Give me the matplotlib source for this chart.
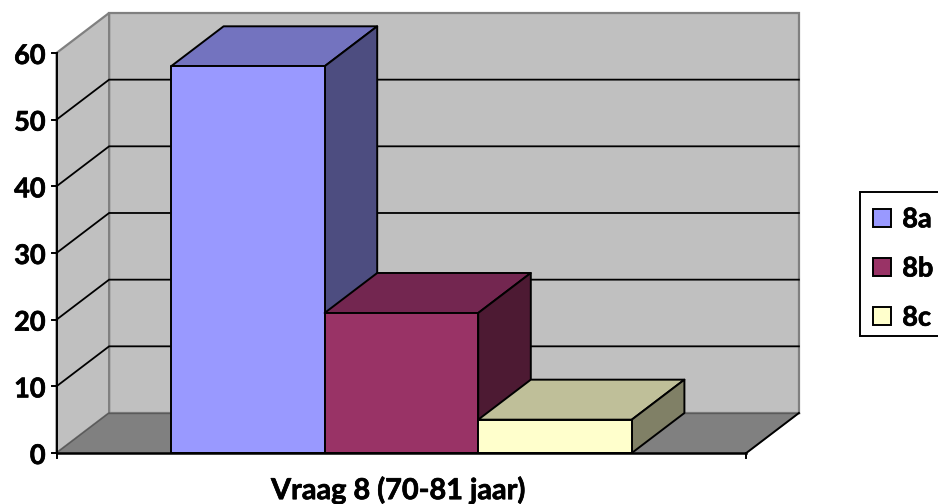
import matplotlib
matplotlib.use("Agg")
import matplotlib.pyplot as plt
from matplotlib.patches import Polygon, Patch, Rectangle
import matplotlib.patheffects as pe

plt.rcParams['font.family'] = ['Lato', 'DejaVu Sans']
plt.rcParams['font.weight'] = 'bold'

categories = ['8a', '8b', '8c']
values = [58, 21, 5]
front_colors = ['#9999FF', '#993366', '#FFFFCC']
top_colors = ['#7373BF', '#732650', '#BFBF99']
side_colors = ['#4D4D80', '#4D1A33', '#808066']
yticks = [0, 10, 20, 30, 40, 50, 60]
xlabel = 'Vraag 8 (70-81 jaar)'

W, H = 938, 504
UX, UY = 153.6, 6.667        # pixels per bar width / per value unit
X0PX, Y0PX = 171.0, 453.0
DX, DY = 52.6 / UX, 40 / UY  # oblique depth in data units
GAP = 114.5 / UX
XL, XR = -GAP, 3 + GAP
YMAX = 60
FS = 19.5
stroke = [pe.withStroke(linewidth=0.5, foreground='black')]

fig = plt.figure(figsize=(W / 100, H / 100), dpi=100)
ax = fig.add_axes([0, 0, 1, 1])
ax.set_xlim(-X0PX / UX, (W - X0PX) / UX)
ax.set_ylim(-(H - Y0PX) / UY, Y0PX / UY)
ax.axis('off')

# walls
ax.add_patch(Polygon([(XL + DX, DY), (XR + DX, DY), (XR + DX, YMAX + DY), (XL + DX, YMAX + DY)],
                     fc='#C0C0C0', ec='#808080', lw=1.6, zorder=1))
ax.add_patch(Polygon([(XL, 0), (XL + DX, DY), (XL + DX, YMAX + DY), (XL, YMAX)],
                     fc='#C0C0C0', ec='#808080', lw=1.6, zorder=1))
ax.add_patch(Polygon([(XL, 0), (XR, 0), (XR + DX, DY), (XL + DX, DY)],
                     fc='#808080', ec='#808080', lw=1, zorder=1))

# gridlines on the walls
for t in yticks[1:-1]:
    ax.plot([XL, XL + DX, XR + DX], [t, t + DY, t + DY], color='black', lw=1.3, zorder=2,
            solid_joinstyle='miter')
ax.plot([XL + DX, XR + DX], [DY, DY], color='#5A5A5A', lw=1.0, zorder=2)
ax.plot([XL, XL + DX], [0, DY], color='#5A5A5A', lw=1.0, zorder=2)
ax.plot([XR, XR + DX], [0, DY], color='black', lw=1.4, zorder=2)

# bars
for i, (v, fc, tc, sc) in enumerate(zip(values, front_colors, top_colors, side_colors)):
    z = 3 + i
    kw = dict(ec='black', lw=1.4, joinstyle='round', zorder=z)
    ax.add_patch(Polygon([(i, v), (i + 1, v), (i + 1 + DX, v + DY), (i + DX, v + DY)], fc=tc, **kw))
    ax.add_patch(Polygon([(i + 1, 0), (i + 1 + DX, DY), (i + 1 + DX, v + DY), (i + 1, v)], fc=sc, **kw))
    ax.add_patch(Polygon([(i, 0), (i + 1, 0), (i + 1, v), (i, v)], fc=fc, **kw))

# axes lines and ticks
ax.plot([XL, XL], [0, YMAX], color='black', lw=1.4, zorder=7)
ax.plot([XL, XR], [0, 0], color='black', lw=1.8, zorder=7)
ax.plot([XR, XR], [0, -0.75], color='black', lw=1.4, zorder=7)
ax.plot([XL, XL], [0, -0.75], color='black', lw=1.4, zorder=7)
for t in yticks:
    ax.plot([XL - 5 / UX, XL], [t, t], color='black', lw=1.4, zorder=7)
    ax.text(XL - 11 / UX, t - 0.45, str(t), ha='right', va='center', fontsize=FS, color='black',
            zorder=8, path_effects=stroke)

ax.text((XL + XR) / 2 - 0.02, -5.6, xlabel, ha='center', va='center', fontsize=FS + 1.3,
        color='black', path_effects=stroke)

# legend: frame and entries
fig.add_artist(Rectangle((860 / W, 1 - 336 / H), 100 / W, 144 / H, transform=fig.transFigure,
                         fc='white', ec='black', lw=1.4, zorder=8))
handles = [Patch(fc=c, ec='black', lw=1.4, label=l) for c, l in zip(front_colors, categories)]
leg = ax.legend(handles=handles, loc='center left', bbox_to_anchor=(860 / W, 1 - 268.5 / H),
                bbox_transform=fig.transFigure, frameon=False, fontsize=FS, handlelength=0.66,
                handleheight=0.66, handletextpad=0.42, labelspacing=0.93, borderpad=0.48,
                borderaxespad=0)
leg.set_zorder(9)
for t in leg.get_texts():
    t.set_path_effects(stroke)
fig.add_artist(leg)
leg.remove() if False else None

fig.savefig('out.png', dpi=100, facecolor='white')
